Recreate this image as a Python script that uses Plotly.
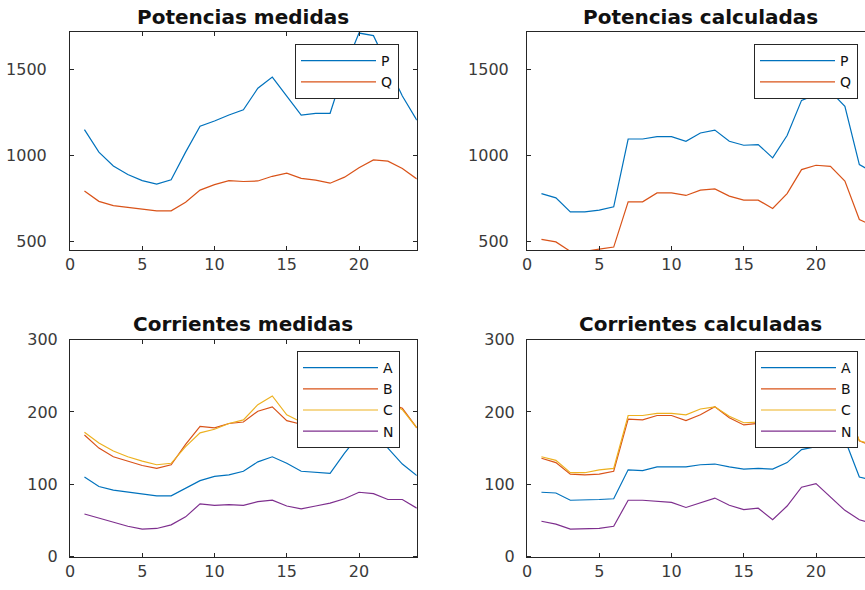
import plotly.graph_objects as go

hours = list(range(1, 25))

p_med = [1150, 1020, 940, 890, 855, 835, 860, 1020, 1170, 1200, 1235, 1265,
         1390, 1455, 1345, 1235, 1245, 1245, 1505, 1710, 1695, 1520, 1345, 1205]
q_med = [795, 735, 710, 700, 692, 680, 680, 730, 800, 832, 855, 850,
         853, 880, 898, 868, 858, 840, 875, 930, 975, 968, 925, 865]

p_calc = [780, 755, 674, 674, 684, 703, 1096, 1096, 1110, 1110, 1083, 1131,
          1148, 1083, 1060, 1064, 987, 1116, 1320, 1353, 1372, 1285, 948, 900]
q_calc = [515, 500, 445, 445, 458, 470, 732, 732, 784, 784, 769, 800,
          807, 765, 742, 742, 694, 780, 919, 944, 938, 852, 630, 590]

a_med = [110, 97, 92, 89, 86, 84, 84, 95, 105, 111, 113, 118,
         131, 138, 129, 118, 116, 115, 143, 168, 172, 150, 128, 112]
b_med = [168, 150, 138, 132, 126, 122, 127, 155, 180, 178, 184, 186,
         201, 207, 188, 183, 180, 178, 200, 222, 220, 212, 205, 178]
c_med = [172, 157, 146, 138, 132, 127, 129, 152, 171, 176, 184, 189,
         210, 222, 196, 186, 183, 180, 205, 228, 226, 215, 203, 178]
n_med = [59, 53, 47, 42, 38, 39, 44, 55, 73, 71, 72, 71,
         76, 78, 70, 66, 70, 74, 80, 89, 87, 79, 79, 67]

a_calc = [89, 88, 78, 78, 79, 80, 120, 119, 124, 124, 124, 127,
          128, 124, 121, 122, 121, 130, 148, 152, 158, 162, 110, 105]
b_calc = [136, 130, 114, 113, 114, 118, 190, 189, 195, 195, 188, 196,
          207, 192, 182, 184, 175, 195, 225, 232, 228, 210, 160, 152]
c_calc = [138, 133, 116, 116, 120, 122, 195, 195, 198, 198, 196, 204,
          207, 194, 185, 186, 178, 198, 228, 235, 230, 212, 160, 155]
n_calc = [49, 45, 38, 38, 39, 42, 78, 78, 76, 75, 68, 75,
          81, 71, 65, 67, 51, 70, 96, 101, 83, 64, 51, 45]

titles = ["Potencias medidas", "Potencias calculadas",
          "Corrientes medidas", "Corrientes calculadas"]
power_ticks = [500, 1000, 1500]
current_ticks = [0, 100, 200, 300]
x_ticks = [0, 5, 10, 15, 20]

BLUE, ORANGE, YELLOW, PURPLE = "#0072BD", "#D95319", "#EDB120", "#7E2F8E"
W, H = 865, 590
FONT = "DejaVu Sans, Arial, sans-serif"
TICKC = "#3a3a3a"
AXC = "#262626"

fig = go.Figure()

panels = [
    ("x", "y", "legend", [("P", p_med, BLUE), ("Q", q_med, ORANGE)]),
    ("x2", "y2", "legend2", [("P", p_calc, BLUE), ("Q", q_calc, ORANGE)]),
    ("x3", "y3", "legend3", [("A", a_med, BLUE), ("B", b_med, ORANGE),
                             ("C", c_med, YELLOW), ("N", n_med, PURPLE)]),
    ("x4", "y4", "legend4", [("A", a_calc, BLUE), ("B", b_calc, ORANGE),
                             ("C", c_calc, YELLOW), ("N", n_calc, PURPLE)]),
]
for xa, ya, lg, series in panels:
    for name, vals, col in series:
        fig.add_trace(go.Scatter(x=hours, y=vals, mode="lines", name=name,
                                 xaxis=xa, yaxis=ya, legend=lg,
                                 line=dict(color=col, width=1.2)))

scale = 14.45  # px per x unit
left_l, right_l = 70, 70 + 24 * scale
left_r = 527
xr_right = (W - left_r) / scale
top_t, bot_t = 32, 250
top_b, bot_b = 339.5, 556.7


def px(v):
    return v / W


def py(v):
    return 1 - v / H


def xaxis(dom, rng, anchor):
    return dict(domain=dom, range=rng, tickvals=x_ticks, ticks="inside",
                ticklen=4, tickcolor=AXC, showline=True, linecolor=AXC,
                linewidth=1, mirror="ticks", showgrid=False, zeroline=False,
                anchor=anchor,
                tickfont=dict(family=FONT, size=16, color=TICKC))


def yaxis(dom, rng, tv, anchor, pad, full=True):
    # major ticks are invisible and only push the labels away from the axis;
    # the visible inside tick marks are drawn as minor ticks at the same values
    return dict(domain=dom, range=rng, tickvals=tv, ticks="outside",
                ticklen=pad, tickcolor="rgba(0,0,0,0)",
                minor=dict(tickmode="array", tickvals=tv, ticks="inside",
                           ticklen=4, tickcolor=AXC, showgrid=False),
                showline=True, linecolor=AXC,
                linewidth=1, mirror=("ticks" if full else False),
                showgrid=False, zeroline=False, anchor=anchor,
                tickfont=dict(family=FONT, size=16, color=TICKC))


prange = [453, 1716]
crange = [0, 300]

layout = dict(
    width=W, height=H, margin=dict(l=0, r=0, t=0, b=0, autoexpand=False),
    paper_bgcolor="white", plot_bgcolor="white", showlegend=True,
    xaxis=xaxis([px(left_l), px(right_l)], [0, 24], "y"),
    yaxis=yaxis([py(bot_t), py(top_t)], prange, power_ticks, "x", 19),
    xaxis2=xaxis([px(left_r), 1], [0, xr_right], "y2"),
    yaxis2=yaxis([py(bot_t), py(top_t)], prange, power_ticks, "x2", 14, full=False),
    xaxis3=xaxis([px(left_l), px(right_l)], [0, 24], "y3"),
    yaxis3=yaxis([py(bot_b), py(top_b)], crange, current_ticks, "x3", 8),
    xaxis4=xaxis([px(left_r), 1], [0, xr_right], "y4"),
    yaxis4=yaxis([py(bot_b), py(top_b)], crange, current_ticks, "x4", 8, full=False),
)
layout["xaxis2"]["mirror"] = True
layout["xaxis4"]["mirror"] = True

leg_common = dict(bgcolor="white", bordercolor=AXC, borderwidth=1,
                  font=dict(family=FONT, size=14, color="#111"),
                  xanchor="right", yanchor="top", itemwidth=75,
                  tracegroupgap=0)
layout["legend"] = dict(x=px(399), y=py(44), **leg_common)
layout["legend2"] = dict(x=px(858), y=py(44), **leg_common)
layout["legend3"] = dict(x=px(400), y=py(351), **leg_common)
layout["legend4"] = dict(x=px(858), y=py(351), **leg_common)

fig.update_layout(**layout)

title_pos = [((left_l + right_l) / 2, 17), (left_r + 12 * scale, 17),
             ((left_l + right_l) / 2, 324), (left_r + 12 * scale, 324)]
for t, (cx, cy) in zip(titles, title_pos):
    fig.add_annotation(text="<b>" + t + "</b>", x=px(cx), y=py(cy),
                       xref="paper", yref="paper", showarrow=False,
                       xanchor="center", yanchor="middle",
                       font=dict(family=FONT, size=20, color="#111"))

fig.write_html("out.html", config={"displayModeBar": False},
               post_script="document.body.style.margin='0px';"
                           "document.body.style.overflow='hidden';")
